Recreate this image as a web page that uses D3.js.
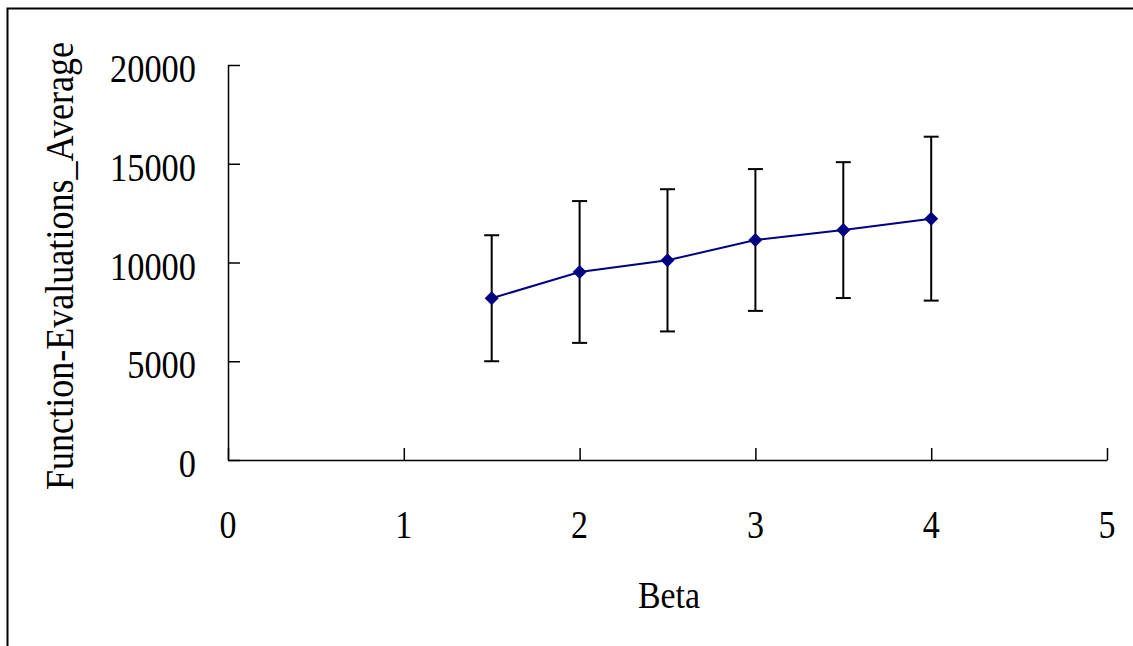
<!DOCTYPE html>
<html>
<head>
<meta charset="utf-8">
<script src="https://cdn.jsdelivr.net/npm/d3@7"></script>
<style>
  body { margin: 0; background: #fff; }
  svg text { font-family: "Liberation Serif", "DejaVu Serif", serif; fill: #000; }
</style>
</head>
<body>
<svg id="main" width="1133" height="646"></svg>
<script>
// beta values and averages
var betas = [1.5, 2, 2.5, 3, 3.5, 4];
var averages = [8190, 9520, 10110, 11140, 11640, 12220];
var errors = [3190, 3590, 3600, 3590, 3440, 4150];
var xTicks = [0, 1, 2, 3, 4, 5];
var yTicks = [0, 5000, 10000, 15000, 20000];

var svg = d3.select("#main");

// outer frame (runs off the right and bottom of the picture)
svg.append("rect")
  .attr("x", 7.5).attr("y", 8.5)
  .attr("width", 1200).attr("height", 700)
  .style("fill", "none").style("stroke", "#000").style("stroke-width", 2);

var x = d3.scaleLinear().domain([0, 5]).range([228, 1107]);
var y = d3.scaleLinear().domain([0, 20000]).range([460, 65]);

// x axis, ticks pointing up into the plot
var xAxis = svg.append("g")
  .attr("transform", "translate(0," + y(0) + ")")
  .call(d3.axisBottom(x).tickValues(xTicks).tickSizeInner(-12).tickSizeOuter(0).tickFormat(""));
xAxis.select(".domain").attr("stroke-width", 1.5);
xAxis.selectAll(".tick line").attr("stroke-width", 1.5);

// y axis, ticks pointing right
var yAxis = svg.append("g")
  .attr("transform", "translate(" + x(0) + ",0)")
  .call(d3.axisLeft(y).tickValues(yTicks).tickSizeInner(-12).tickSizeOuter(0).tickFormat(""));
yAxis.select(".domain").attr("stroke-width", 1.5);
yAxis.selectAll(".tick line").attr("stroke-width", 1.5);

// tick labels (narrow tall serif, squeezed with textLength)
svg.selectAll(".xlab").data(xTicks).enter().append("text")
  .attr("class", "xlab")
  .attr("x", function(d) { return x(d); })
  .attr("y", 538)
  .attr("text-anchor", "middle")
  .attr("textLength", 17)
  .attr("lengthAdjust", "spacingAndGlyphs")
  .style("font-size", "41px")
  .text(function(d) { return d; });

svg.selectAll(".ylab").data(yTicks).enter().append("text")
  .attr("class", "ylab")
  .attr("x", 196)
  .attr("y", function(d) { return y(d) + 17; })
  .attr("text-anchor", "end")
  .attr("textLength", function(d) { return String(d).length * 17.2; })
  .attr("lengthAdjust", "spacingAndGlyphs")
  .style("font-size", "41px")
  .text(function(d) { return d; });

// axis titles
svg.append("text")
  .attr("x", 669).attr("y", 608)
  .attr("text-anchor", "middle")
  .attr("textLength", 62)
  .attr("lengthAdjust", "spacingAndGlyphs")
  .style("font-size", "38px")
  .text("Beta");

svg.append("text")
  .attr("transform", "translate(73,266) rotate(-90)")
  .attr("text-anchor", "middle")
  .attr("textLength", 448)
  .attr("lengthAdjust", "spacingAndGlyphs")
  .style("font-size", "41px")
  .text("Function-Evaluations_Average");

// error bars
var bars = svg.append("g").selectAll("g").data(betas).enter().append("g")
  .style("stroke", "#000").style("stroke-width", 2);
bars.append("line")
  .attr("x1", function(d) { return x(d); })
  .attr("x2", function(d) { return x(d); })
  .attr("y1", function(d, i) { return y(averages[i] + errors[i]); })
  .attr("y2", function(d, i) { return y(averages[i] - errors[i]); });
bars.append("line")
  .attr("x1", function(d) { return x(d) - 7.5; })
  .attr("x2", function(d) { return x(d) + 7.5; })
  .attr("y1", function(d, i) { return y(averages[i] + errors[i]); })
  .attr("y2", function(d, i) { return y(averages[i] + errors[i]); });
bars.append("line")
  .attr("x1", function(d) { return x(d) - 7.5; })
  .attr("x2", function(d) { return x(d) + 7.5; })
  .attr("y1", function(d, i) { return y(averages[i] - errors[i]); })
  .attr("y2", function(d, i) { return y(averages[i] - errors[i]); });

// the mean line
var line = d3.line()
  .x(function(d, i) { return x(betas[i]); })
  .y(function(d) { return y(d); });
svg.append("path")
  .datum(averages)
  .attr("d", line)
  .style("fill", "none").style("stroke", "#000080").style("stroke-width", 2);

// diamond markers
svg.selectAll(".pt").data(averages).enter().append("path")
  .attr("class", "pt")
  .attr("transform", function(d, i) { return "translate(" + x(betas[i]) + "," + y(d) + ")"; })
  .attr("d", "M0,-7L7,0L0,7L-7,0Z")
  .style("fill", "#000080");
</script>
</body>
</html>
